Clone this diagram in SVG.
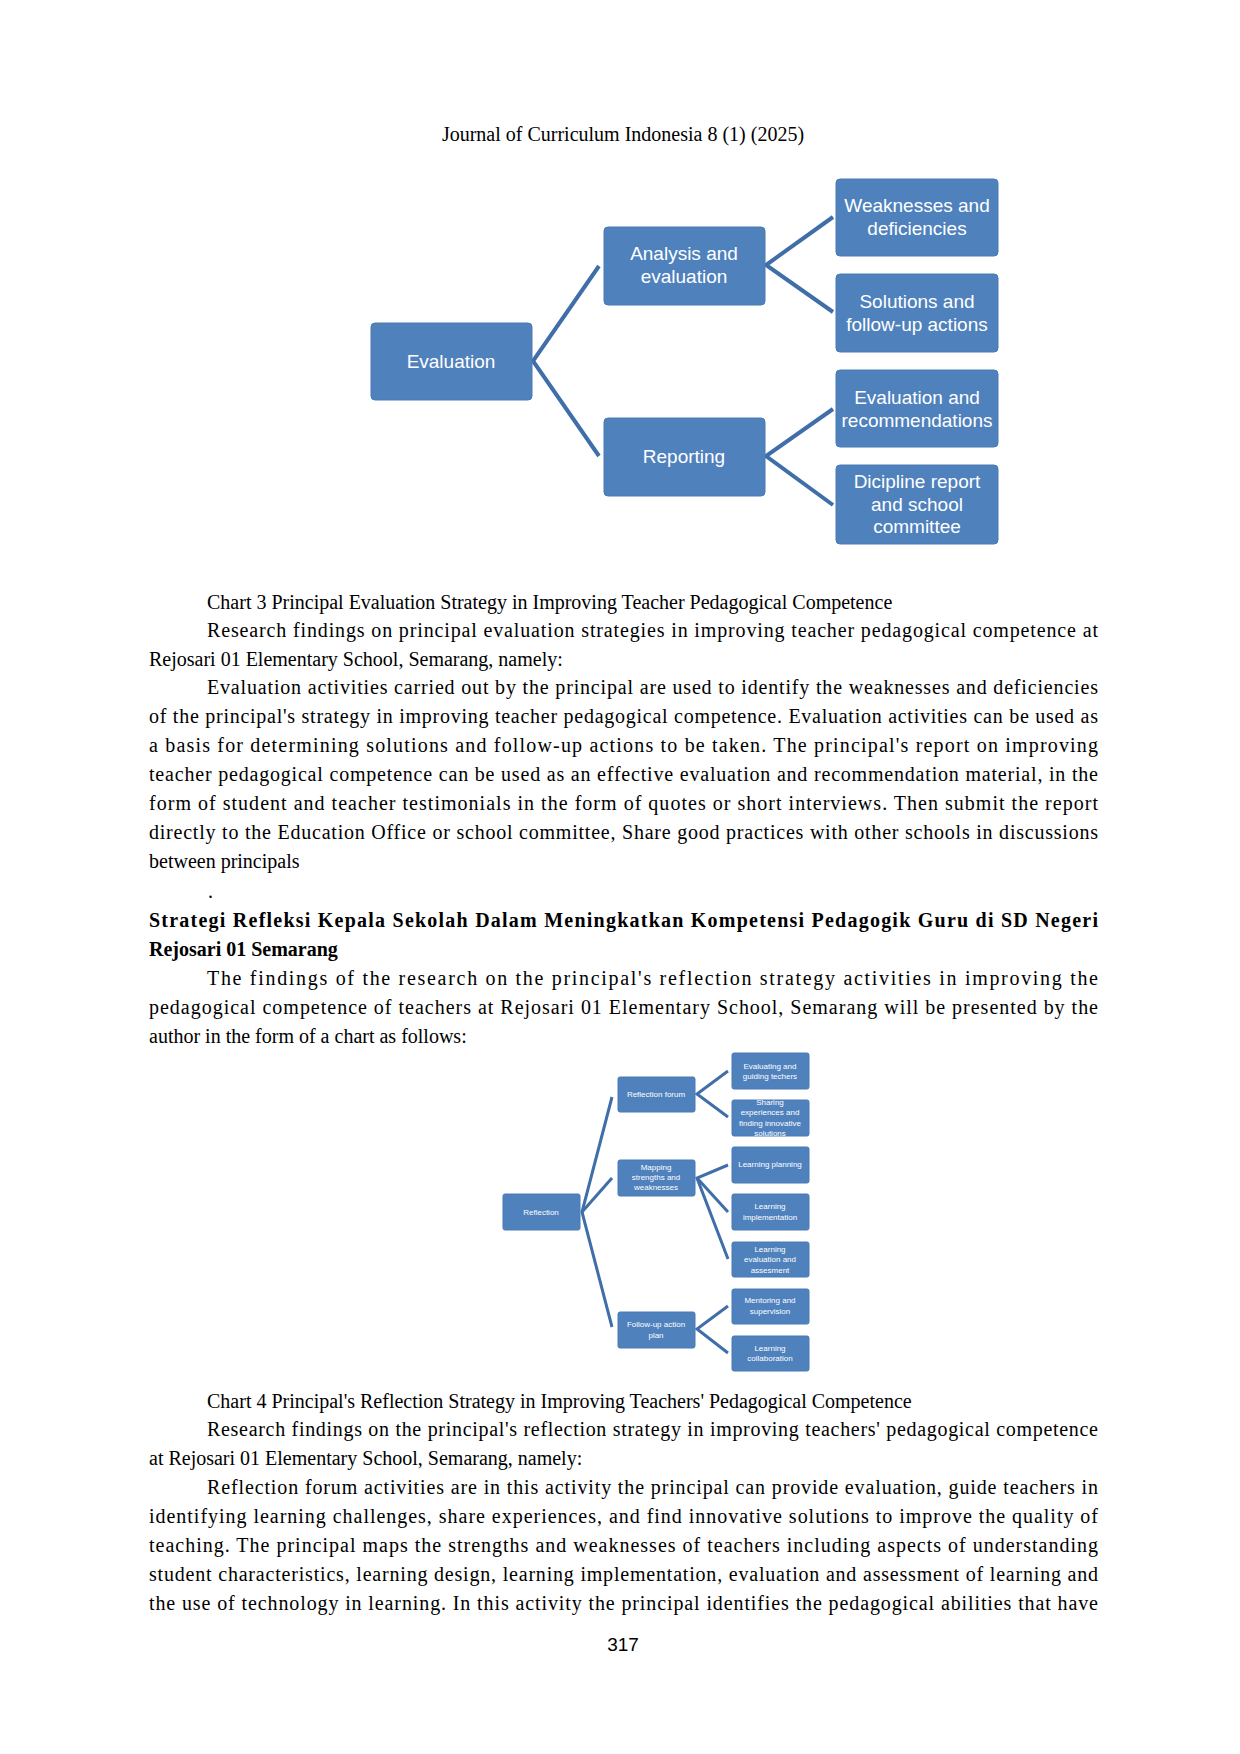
<svg xmlns="http://www.w3.org/2000/svg" width="1240" height="1754" viewBox="0 0 1240 1754">
<style>
.b{fill:#4F81BD;stroke:#4A7AB5;stroke-width:1}
.t{font-family:"Liberation Sans",Arial,sans-serif;font-size:19px;fill:#fff;text-anchor:middle}
.s{font-family:"Liberation Sans",Arial,sans-serif;font-size:8px;fill:#fff;text-anchor:middle}
.c{fill:none;stroke:#3F6EA8;stroke-width:4}
.c2{fill:none;stroke:#3F6EA8;stroke-width:3}
.p{font-family:"Liberation Serif","Times New Roman",serif;font-size:20px;fill:#000}
.h{font-family:"Liberation Serif","Times New Roman",serif;font-size:20px;font-weight:bold;fill:#000}
</style>
<rect width="1240" height="1754" fill="#fff"/>
<text class="p" x="623" y="141" text-anchor="middle" font-size="19">Journal of Curriculum Indonesia 8 (1) (2025)</text>
<g id="connectors1">
<polyline class="c" points="599,266 533,361 599,456"/>
<polyline class="c" points="833,217 766,265 833,312"/>
<polyline class="c" points="833,409 766,456 833,505"/>
</g>
<g id="evaluation"><rect class="b" x="371" y="323" width="161" height="77" rx="4"/><text class="t" x="451" y="368">Evaluation</text></g>
<g id="analysis"><rect class="b" x="604" y="227" width="161" height="78" rx="4"/><text class="t" x="684" y="260">Analysis and</text><text class="t" x="684" y="283">evaluation</text></g>
<g id="reporting"><rect class="b" x="604" y="418" width="161" height="78" rx="4"/><text class="t" x="684" y="463">Reporting</text></g>
<g id="weaknesses"><rect class="b" x="836" y="179" width="162" height="77" rx="4"/><text class="t" x="917" y="212">Weaknesses and</text><text class="t" x="917" y="235">deficiencies</text></g>
<g id="solutions"><rect class="b" x="836" y="274" width="162" height="78" rx="4"/><text class="t" x="917" y="308">Solutions and</text><text class="t" x="917" y="331">follow-up actions</text></g>
<g id="evalrec"><rect class="b" x="836" y="370" width="162" height="77" rx="4"/><text class="t" x="917" y="404">Evaluation and</text><text class="t" x="917" y="427">recommendations</text></g>
<g id="dicipline"><rect class="b" x="836" y="465" width="162" height="79" rx="4"/><text class="t" x="917" y="488">Dicipline report</text><text class="t" x="917" y="511">and school</text><text class="t" x="917" y="533">committee</text></g>

<text class="p" x="207" y="609">Chart 3 Principal Evaluation Strategy in Improving Teacher Pedagogical Competence</text>
<text class="p" x="207" y="637" textLength="891" lengthAdjust="spacing">Research findings on principal evaluation strategies in improving teacher pedagogical competence at</text>
<text class="p" x="149" y="666">Rejosari 01 Elementary School, Semarang, namely:</text>
<text class="p" x="207" y="694" textLength="891" lengthAdjust="spacing">Evaluation activities carried out by the principal are used to identify the weaknesses and deficiencies</text>
<text class="p" x="149" y="723" textLength="949" lengthAdjust="spacing">of the principal's strategy in improving teacher pedagogical competence. Evaluation activities can be used as</text>
<text class="p" x="149" y="752" textLength="949" lengthAdjust="spacing">a basis for determining solutions and follow-up actions to be taken. The principal's report on improving</text>
<text class="p" x="149" y="781" textLength="949" lengthAdjust="spacing">teacher pedagogical competence can be used as an effective evaluation and recommendation material, in the</text>
<text class="p" x="149" y="810" textLength="949" lengthAdjust="spacing">form of student and teacher testimonials in the form of quotes or short interviews. Then submit the report</text>
<text class="p" x="149" y="839" textLength="949" lengthAdjust="spacing">directly to the Education Office or school committee, Share good practices with other schools in discussions</text>
<text class="p" x="149" y="868">between principals</text>
<text class="p" x="208" y="898">.</text>
<text class="h" x="149" y="927" textLength="949" lengthAdjust="spacing">Strategi Refleksi Kepala Sekolah Dalam Meningkatkan Kompetensi Pedagogik Guru di SD Negeri</text>
<text class="h" x="149" y="956">Rejosari 01 Semarang</text>
<text class="p" x="207" y="985" textLength="891" lengthAdjust="spacing">The findings of the research on the principal's reflection strategy activities in improving the</text>
<text class="p" x="149" y="1014" textLength="949" lengthAdjust="spacing">pedagogical competence of teachers at Rejosari 01 Elementary School, Semarang will be presented by the</text>
<text class="p" x="149" y="1043">author in the form of a chart as follows:</text>

<g id="connectors2">
<polyline class="c2" points="612,1097 582,1212 612,1327"/>
<line class="c2" x1="582" y1="1212" x2="612" y2="1178"/>
<polyline class="c2" points="728,1071 697,1094 728,1117"/>
<polyline class="c2" points="728,1165 697,1178 728,1259"/>
<line class="c2" x1="697" y1="1178" x2="728" y2="1212"/>
<polyline class="c2" points="728,1306 697,1329 728,1353"/>
</g>
<g id="reflection"><rect class="b" x="503" y="1194" width="77" height="36" rx="2"/><text class="s" x="541" y="1215">Reflection</text></g>
<g id="forum"><rect class="b" x="618" y="1077" width="77" height="35" rx="2"/><text class="s" x="656" y="1097">Reflection forum</text></g>
<g id="mapping"><rect class="b" x="618" y="1160" width="77" height="36" rx="2"/><text class="s" x="656" y="1170">Mapping</text><text class="s" x="656" y="1180">strengths and</text><text class="s" x="656" y="1190">weaknesses</text></g>
<g id="followup"><rect class="b" x="618" y="1312" width="77" height="36" rx="2"/><text class="s" x="656" y="1327">Follow-up action</text><text class="s" x="656" y="1338">plan</text></g>
<g id="guiding"><rect class="b" x="732" y="1053" width="77" height="36" rx="2"/><text class="s" x="770" y="1069">Evaluating and</text><text class="s" x="770" y="1079">guiding techers</text></g>
<g id="sharing"><rect class="b" x="732" y="1100" width="77" height="36" rx="2"/><text class="s" x="770" y="1105">Sharing</text><text class="s" x="770" y="1115">experiences and</text><text class="s" x="770" y="1126">finding innovative</text><text class="s" x="770" y="1136">solutions</text></g>
<g id="planning"><rect class="b" x="732" y="1147" width="77" height="36" rx="2"/><text class="s" x="770" y="1167">Learning planning</text></g>
<g id="implementation"><rect class="b" x="732" y="1194" width="77" height="36" rx="2"/><text class="s" x="770" y="1209">Learning</text><text class="s" x="770" y="1220">implementation</text></g>
<g id="assesment"><rect class="b" x="732" y="1242" width="77" height="35" rx="2"/><text class="s" x="770" y="1252">Learning</text><text class="s" x="770" y="1262">evaluation and</text><text class="s" x="770" y="1273">assesment</text></g>
<g id="mentoring"><rect class="b" x="732" y="1289" width="77" height="35" rx="2"/><text class="s" x="770" y="1303">Mentoring and</text><text class="s" x="770" y="1314">supervision</text></g>
<g id="collaboration"><rect class="b" x="732" y="1336" width="77" height="35" rx="2"/><text class="s" x="770" y="1351">Learning</text><text class="s" x="770" y="1361">collaboration</text></g>

<text class="p" x="207" y="1408">Chart 4 Principal's Reflection Strategy in Improving Teachers' Pedagogical Competence</text>
<text class="p" x="207" y="1436" textLength="891" lengthAdjust="spacing">Research findings on the principal's reflection strategy in improving teachers' pedagogical competence</text>
<text class="p" x="149" y="1465">at Rejosari 01 Elementary School, Semarang, namely:</text>
<text class="p" x="207" y="1494" textLength="891" lengthAdjust="spacing">Reflection forum activities are in this activity the principal can provide evaluation, guide teachers in</text>
<text class="p" x="149" y="1523" textLength="949" lengthAdjust="spacing">identifying learning challenges, share experiences, and find innovative solutions to improve the quality of</text>
<text class="p" x="149" y="1552" textLength="949" lengthAdjust="spacing">teaching. The principal maps the strengths and weaknesses of teachers including aspects of understanding</text>
<text class="p" x="149" y="1581" textLength="949" lengthAdjust="spacing">student characteristics, learning design, learning implementation, evaluation and assessment of learning and</text>
<text class="p" x="149" y="1610" textLength="949" lengthAdjust="spacing">the use of technology in learning. In this activity the principal identifies the pedagogical abilities that have</text>
<text x="623" y="1651" text-anchor="middle" font-family="'Liberation Sans',Arial,sans-serif" font-size="19" fill="#000">317</text>
</svg>
